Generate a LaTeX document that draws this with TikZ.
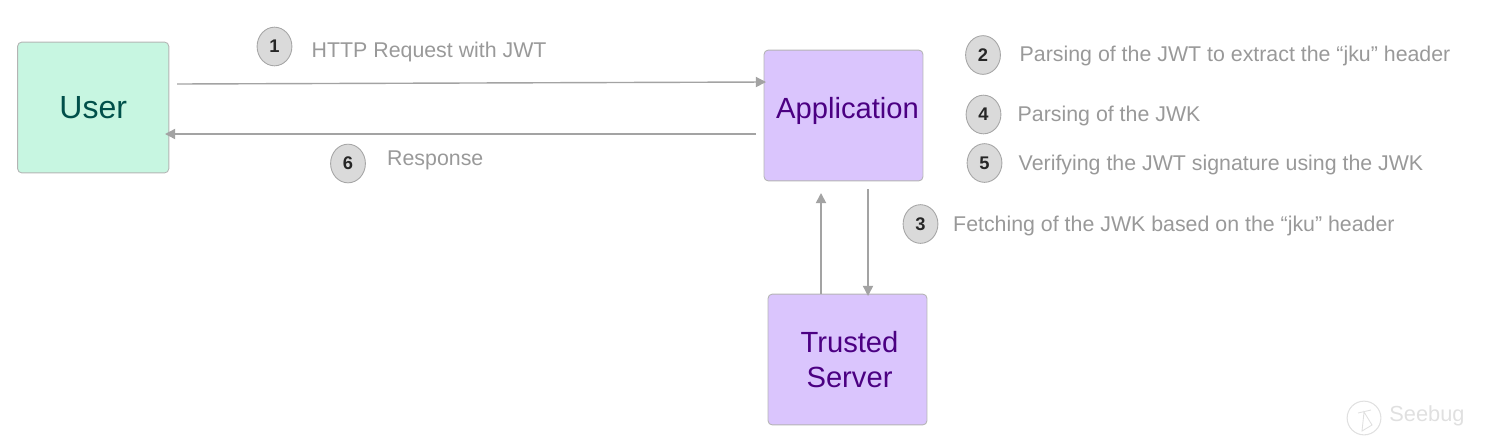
\documentclass[tikz,border=0pt]{standalone}
\usepackage{fontspec}
\setmainfont{Liberation Sans}
\usetikzlibrary{positioning,arrows.meta,shapes.geometric}
\definecolor{usergreen}{HTML}{C7F6E1}
\definecolor{usertext}{HTML}{00504A}
\definecolor{apppurple}{HTML}{DAC5FD}
\definecolor{apptext}{HTML}{4B0082}
\definecolor{edgegray}{HTML}{B4B4B4}
\definecolor{stepgray}{HTML}{DADADA}
\definecolor{stepedge}{HTML}{A6A6A6}
\definecolor{labelgray}{HTML}{999999}
\definecolor{arrowgray}{HTML}{A3A3A3}
\begin{document}
\begin{tikzpicture}[x=0.01cm,y=-0.01cm]
		\tikzstyle{mainblock} = [rectangle, draw = edgegray, line width = 0.25pt, rounded corners = 1.2pt, inner sep = 0pt, minimum width = 45.2pt, minimum height = 37.2pt, align = center, font = \fontsize{9.1}{10}\selectfont];
		\tikzstyle{blocktext} = [align = center, inner sep = 0pt, text = apptext, font = \fontsize{8.3}{9.95}\selectfont];
		\tikzstyle{stepmark} = [ellipse, draw = stepedge, fill = stepgray, line width = 0.25pt, inner sep = 0pt, minimum width = 9.9pt, minimum height = 11pt, font = \fontsize{5.2}{6}\selectfont\bfseries, text = black!85];
		\tikzstyle{steptext} = [anchor = west, inner sep = 0pt, text = labelgray, font = \fontsize{6.07}{7.5}\selectfont];
		\tikzstyle{mainpath} = [draw = arrowgray, line width = 0.4pt, -{Triangle[length = 2.9pt, width = 2.9pt]}];
		\useasboundingbox (0,0) rectangle (1492,445);
		\node (user) at (93.2,107.5) [mainblock, fill = usergreen, text = usertext, minimum width = 43pt] {User};
		\node (app) at (843.5,115.5) [mainblock, fill = apppurple, label = {[blocktext, xshift = 0.04cm, yshift = 0.05cm]center:Application}] {};
		\node (server) at (847.5,359.5) [mainblock, fill = apppurple, label = {[blocktext, xshift = 0.02cm]center:{Trusted\\Server}}] {};
		\node (mark1) at (274.5,46.5) [stepmark] {1};
		\node (mark2) at (983,55) [stepmark] {2};
		\node (mark4) at (983.5,114.5) [stepmark] {4};
		\node (mark5) at (984.5,163) [stepmark] {5};
		\node (mark3) at (920.5,224) [stepmark] {3};
		\node (mark6) at (348,163.5) [stepmark] {6};
		\node (text1) at (311,52) [steptext] {HTTP Request with JWT};
		\node (text2) at (1019,56) [steptext] {Parsing of the JWT to extract the “jku” header};
		\node (text4) at (1017,116) [steptext] {Parsing of the JWK};
		\node (text5) at (1018,165) [steptext] {Verifying the JWT signature using the JWK};
		\node (text3) at (952.5,226) [steptext] {Fetching of the JWK based on the “jku” header};
		\node (text6) at (386.5,160) [steptext] {Response};
		\node (logo) at (1364,418) [circle, draw = black!12, line width = 0.3pt, inner sep = 0pt, minimum size = 9.6pt] {};
		\draw [black!12, line width = 0.25pt] (1358,413) -- (1371,410) (1364,412) -- (1362,431) -- (1372,425) -- cycle;
		\node (mark) at (1427,416) [inner sep = 0pt, text = black!12, font = \fontsize{6.2}{7}\selectfont] {Seebug};
		\coordinate (req) at (177,84);
		\coordinate (reqend) at (766,82);
		\coordinate (resp) at (756,134);
		\coordinate (respend) at (165,134);
		\coordinate (back) at (821,193);
		\coordinate (fetch) at (868,189);
		\coordinate (fetchend) at (868,296);
		\path [mainpath] (req) -- (reqend);
		\path [mainpath] (resp) -- (respend);
		\path [mainpath, line width = 0.5pt] (server.north -| back) -- (back);
		\path [mainpath] (fetch) -- (fetchend);
	\end{tikzpicture}
\end{document}
